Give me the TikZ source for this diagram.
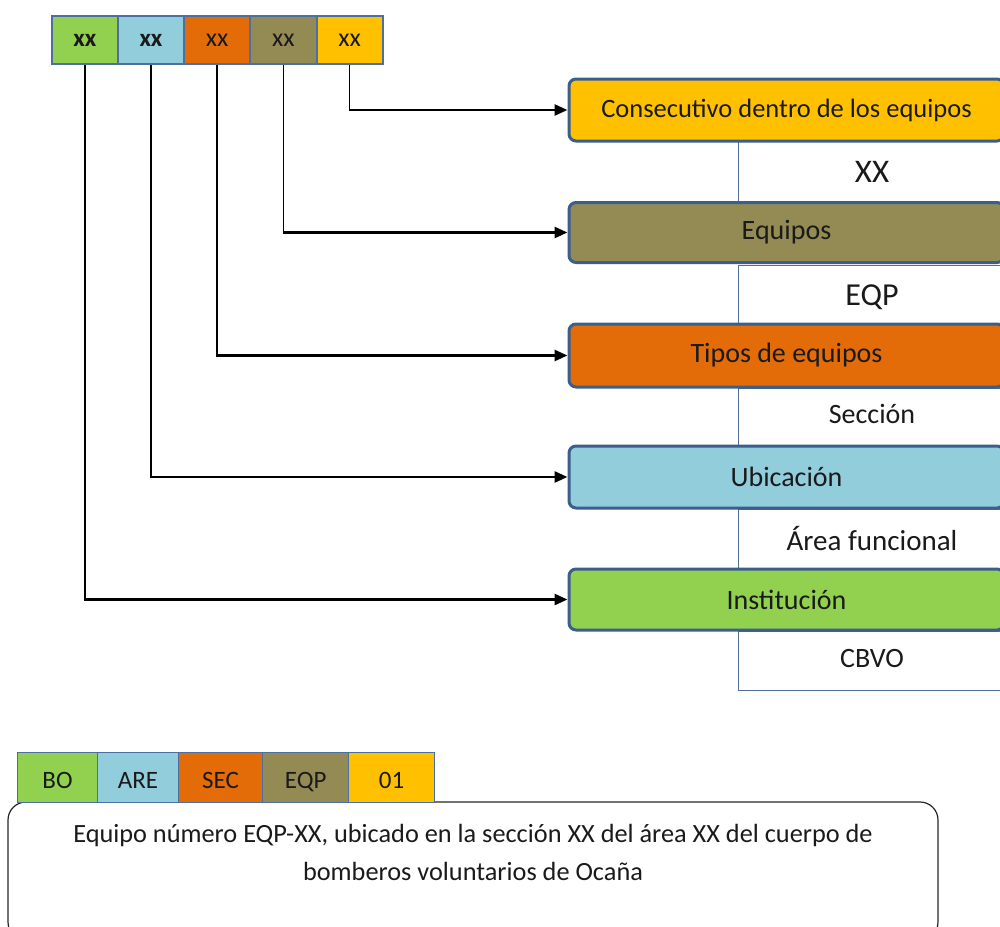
\documentclass[tikz,border=0pt]{standalone}
\usepackage{fontspec}
\setmainfont{Carlito}
\usetikzlibrary{arrows.meta}
\definecolor{cyel}{HTML}{FFC000}
\definecolor{colive}{HTML}{948A54}
\definecolor{corange}{HTML}{E36C09}
\definecolor{cblue}{HTML}{92CDDC}
\definecolor{cgreen}{HTML}{92D050}
\definecolor{bdark}{HTML}{3B5E8C}
\definecolor{bthin}{HTML}{4F6E9A}
\definecolor{bcell}{HTML}{4A6FA0}
\definecolor{txt}{HTML}{1A1A1A}
\tikzset{
  cbox/.style={draw=bdark, line width=3pt, rounded corners=7pt, minimum width=435pt,
    inner sep=0pt, text=txt, font=\fontsize{28}{30}\selectfont},
  wbox/.style={draw=bthin, line width=1pt, fill=white, minimum width=268pt,
    inner sep=0pt},
  wlabel/.style={text=txt, inner sep=0pt},
  tcell/.style={draw=bcell, line width=2pt, minimum width=66.2pt, minimum height=48pt,
    inner sep=0pt, text=txt, font=\fontsize{26}{28}\selectfont},
  bcellst/.style={draw=bcell, line width=1pt, minimum height=50pt,
    inner sep=0pt, text=txt, text height=25pt, text depth=3pt,
    font=\fontsize{25}{27}\selectfont},
  vline/.style={draw=black, line width=1.5pt},
  hline/.style={draw=black, line width=2.7pt, -{Triangle[length=13pt,width=11pt]}},
}
\begin{document}
\begin{tikzpicture}[x=1pt,y=-1pt]
\useasboundingbox (0,0) rectangle (1000,926);
\clip (0,0) rectangle (1000,926);
% white label boxes
\node[wbox, minimum height=61pt] (w1) at (872,171.5) {};
\node[wbox, minimum height=58pt] (w2) at (872,294) {};
\node[wbox, minimum height=57pt] (w3) at (872,416.5) {};
\node[wbox, minimum height=59pt] (w4) at (872,538.5) {};
\node[wbox, minimum height=59pt] (w5) at (872,660.5) {};
\node[wlabel, font=\fontsize{33}{35}\selectfont] (l1) at (872,172) {XX};
\node[wlabel, font=\fontsize{32}{34}\selectfont] (l2) at (872,297) {EQP};
\node[wlabel, font=\fontsize{28}{30}\selectfont] (l3) at (872,414) {Sección};
\node[wlabel, font=\fontsize{29}{31}\selectfont] (l4) at (872,538) {Área funcional};
\node[wlabel, font=\fontsize{28}{30}\selectfont] (l5) at (872,658) {CBVO};
% coloured boxes
\node[cbox, fill=cyel, minimum height=62pt, font=\fontsize{26.5}{28}\selectfont] (b1) at (786.5,110) {Consecutivo dentro de los equipos};
\node[cbox, fill=colive, minimum height=60pt] (b2) at (786.5,232.5) {Equipos};
\node[cbox, fill=corange, minimum height=63pt] (b3) at (786.5,355.5) {Tipos de equipos};
\node[cbox, fill=cblue, minimum height=62pt] (b4) at (786.5,477) {Ubicación};
\node[cbox, fill=cgreen, minimum height=61pt] (b5) at (786.5,599.5) {Institución};
% top code bar
\node[tcell, fill=cgreen, font=\fontsize{25}{27}\bfseries] (t1) at (84.8,40) {xx};
\node[tcell, fill=cblue, font=\fontsize{25}{27}\bfseries] (t2) at (151,40) {xx};
\node[tcell, fill=corange] (t3) at (217.2,40) {xx};
\node[tcell, fill=colive] (t4) at (283.4,40) {xx};
\node[tcell, fill=cyel] (t5) at (349.6,40) {xx};
% connectors
\coordinate (k1) at (t5.south |- b1.west);
\coordinate (k2) at (t4.south |- b2.west);
\coordinate (k3) at (t3.south |- b3.west);
\coordinate (k4) at (t2.south |- b4.west);
\coordinate (k5) at (t1.south |- b5.west);
\draw[vline] (t5.south) -- ([yshift=-1.35pt]k1);
\draw[vline] (t4.south) -- ([yshift=-1.35pt]k2);
\draw[vline] (t3.south) -- ([yshift=-1.35pt]k3);
\draw[vline] (t2.south) -- ([yshift=-1.35pt]k4);
\draw[vline] (t1.south) -- ([yshift=-1.35pt]k5);
\draw[hline] ([xshift=-0.75pt]k1) -- (b1.west);
\draw[hline] ([xshift=-0.75pt]k2) -- (b2.west);
\draw[hline] ([xshift=-0.75pt]k3) -- (b3.west);
\draw[hline] ([xshift=-0.75pt]k4) -- (b4.west);
\draw[hline] ([xshift=-0.75pt]k5) -- (b5.west);
% example description box
\node[draw=black!85, line width=1.2pt, rounded corners=18pt, minimum width=930pt,
  minimum height=138pt, inner sep=0pt] (desc) at (473,871) {};
\node[text=txt, align=center, font=\fontsize{26.3}{38}\selectfont, inner sep=0pt] (dtext) at (473,852)
  {Equipo número EQP-XX, ubicado en la sección XX del área XX del cuerpo de\\bomberos voluntarios de Ocaña};
% example code cells
\node[bcellst, fill=cgreen, minimum width=80.4pt] (e1) at (57.5,777) {BO};
\node[bcellst, fill=cblue, minimum width=80.6pt] (e2) at (138,777) {ARE};
\node[bcellst, fill=corange, minimum width=84.4pt] (e3) at (220.5,777) {SEC};
\node[bcellst, fill=colive, minimum width=86pt] (e4) at (305.7,777) {EQP};
\node[bcellst, fill=cyel, minimum width=85.6pt] (e5) at (391.5,777) {01};
\end{tikzpicture}
\end{document}
